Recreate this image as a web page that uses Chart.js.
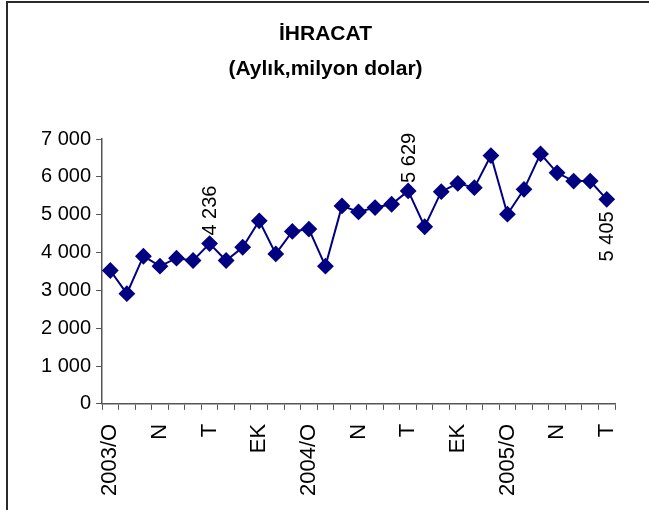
<!DOCTYPE html>
<html>
<head>
<meta charset="utf-8">
<script src="https://cdn.jsdelivr.net/npm/chart.js@4/dist/chart.umd.min.js"></script>
<style>
  html, body { margin: 0; padding: 0; background: #fff; }
  #wrap { width: 649px; height: 510px; position: relative; }
</style>
</head>
<body>
<div id="wrap"><canvas id="c" width="649" height="510"></canvas></div>
<script>
// Categories (months, Turkish abbreviations)
const categories = [
  '2003/O','Ş','M','N','M','H','T','A','E','EK','K','A',
  '2004/O','Ş','M','N','M','H','T','A','E','EK','K','A',
  '2005/O','Ş','M','N','M','H','T'
];
// Monthly exports (million USD)
const exportsValues = [
  3525, 2913, 3902, 3640, 3850, 3788, 4236, 3788, 4138, 4837, 3963, 4558,
  4619, 3640, 5232, 5074, 5188, 5276, 5629, 4681, 5608, 5827, 5713, 6562,
  5013, 5669, 6606, 6107, 5887, 5887, 5405
];
// Which points carry a value label, and where
const labelIndexes = [6, 18, 30];
const labelTexts = ['4 236', '5 629', '5 405'];
const labelSides = ['above', 'above', 'below'];
// Y tick values
const yTicks = [0, 1000, 2000, 3000, 4000, 5000, 6000, 7000];
const titleLines = ['İHRACAT', '(Aylık,milyon dolar)'];

const FONT = "'Liberation Sans', Arial, sans-serif";
const fmt = v => String(v).replace(/\B(?=(\d{3})+(?!\d))/g, ' ');

const frame = {
  id: 'frame',
  beforeDraw(chart) {
    const ctx = chart.ctx;
    ctx.save();
    ctx.fillStyle = '#fff';
    ctx.fillRect(0, 0, chart.width, chart.height);
    ctx.strokeStyle = '#2a2a2a';
    ctx.lineWidth = 2;
    ctx.beginPath();
    ctx.moveTo(7, chart.height);
    ctx.lineTo(7, 2);
    ctx.lineTo(chart.width, 2);
    ctx.stroke();
    ctx.restore();
  }
};

const valueLabels = {
  id: 'valueLabels',
  afterDatasetsDraw(chart) {
    const ctx = chart.ctx;
    const meta = chart.getDatasetMeta(0);
    ctx.save();
    ctx.font = '20px ' + FONT;
    ctx.fillStyle = '#000';
    ctx.textBaseline = 'middle';
    labelIndexes.forEach((idx, k) => {
      const pt = meta.data[idx];
      ctx.save();
      ctx.translate(pt.x + 1, pt.y);
      ctx.rotate(-Math.PI / 2);
      if (labelSides[k] === 'above') {
        ctx.textAlign = 'left';
        ctx.fillText(labelTexts[k], 8, 0);
      } else {
        ctx.textAlign = 'right';
        ctx.fillText(labelTexts[k], -12, 0);
      }
      ctx.restore();
    });
    ctx.restore();
  }
};

new Chart(document.getElementById('c'), {
  type: 'line',
  data: {
    labels: categories,
    datasets: [{
      data: exportsValues,
      borderColor: '#000080',
      backgroundColor: '#000080',
      borderWidth: 2,
      pointStyle: 'rectRot',
      pointRadius: 7,
      pointHoverRadius: 7,
      tension: 0,
      fill: false
    }]
  },
  options: {
    responsive: false,
    animation: false,
    devicePixelRatio: 1,
    layout: { padding: { left: 36, right: 34, top: 0, bottom: 0 } },
    plugins: {
      legend: { display: false },
      tooltip: { enabled: false },
      title: {
        display: true,
        text: titleLines,
        color: '#000',
        font: { family: FONT, size: 21, weight: 'bold', lineHeight: 1.667 },
        padding: { top: 17, bottom: 52 }
      }
    },
    scales: {
      x: {
        offset: true,
        grid: {
          offset: true,
          drawOnChartArea: false,
          drawTicks: true,
          tickLength: 6,
          color: '#555'
        },
        border: { display: true, color: '#555', width: 1.5 },
        ticks: {
          autoSkip: false,
          maxRotation: 90,
          minRotation: 90,
          padding: 14,
          color: '#000',
          font: { family: FONT, size: 22 },
          callback: (v, i) => (i % 3 === 0 ? categories[i] : '')
        }
      },
      y: {
        min: 0,
        max: 7000,
        afterBuildTicks: s => { s.ticks = yTicks.map(v => ({ value: v })); },
        grid: {
          drawOnChartArea: false,
          drawTicks: true,
          tickLength: 6,
          color: '#555'
        },
        border: { display: true, color: '#555', width: 1.5 },
        ticks: {
          padding: 5,
          color: '#000',
          font: { family: FONT, size: 20 },
          callback: v => fmt(v)
        }
      }
    }
  },
  plugins: [frame, valueLabels]
});
</script>
</body>
</html>
